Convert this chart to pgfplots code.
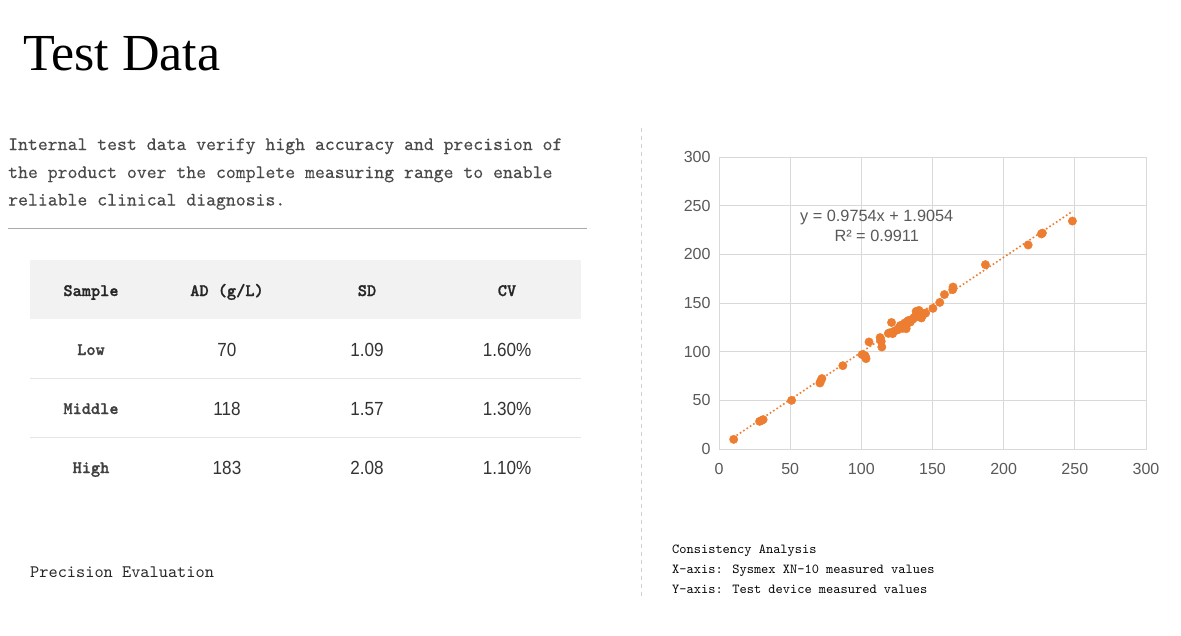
\documentclass[border=0pt]{standalone}
\usepackage{fontspec}
\usepackage{pgfplots}
\pgfplotsset{compat=1.18}
\setmainfont{Liberation Serif}
\newfontfamily\sansf{Liberation Sans}
\newfontfamily\numf[FakeStretch=0.9]{Liberation Sans}
\newfontfamily\ttbf[FakeBold=1.2]{lmmonolt10-bold.otf}
\newfontfamily\ttr[FakeBold=0.15]{lmmono10-regular.otf}
\newfontfamily\ttl{lmmono10-regular.otf}
\definecolor{xlorange}{HTML}{ED7D31}
\definecolor{gridc}{HTML}{D9D9D9}
\definecolor{tickc}{HTML}{595959}
\definecolor{band}{HTML}{F2F2F2}
\definecolor{rowline}{HTML}{E6E6E6}
\definecolor{para}{HTML}{4A4A4A}
\definecolor{rulec}{HTML}{AAAAAA}
\definecolor{dashc}{HTML}{D0D0D0}
\begin{document}
\begin{tikzpicture}[x=1pt,y=1pt]
\useasboundingbox (0,0) rectangle (1181,-635);
\fill[white] (0,0) rectangle (1181,-635);
% title
\node[anchor=base west, inner sep=0, font=\fontsize{52}{52}\selectfont] at (23,-70) {Test Data};
% paragraph
\begin{scope}[every node/.style={anchor=base west, inner sep=0, text=para, font=\ttr\fontsize{18.85}{18.85}\selectfont}]
\node at (8,-150) {Internal test data verify high accuracy and precision of};
\node at (8,-178) {the product over the complete measuring range to enable};
\node at (8,-205.5) {reliable clinical diagnosis.};
\end{scope}
\draw[rulec, line width=1pt] (8,-228) -- (587,-228);
% table
\fill[band] (30,-260) rectangle (581,-319);
\draw[rowline, line width=1pt] (30,-378) -- (581,-378);
\draw[rowline, line width=1pt] (30,-437) -- (581,-437);
\begin{scope}[every node/.style={anchor=base, inner sep=0, text=black!85, font=\ttbf\fontsize{17.5}{17.5}\selectfont}]
\node at (91,-296) {Sample};
\node at (227,-296) {AD (g/L)};
\node at (367,-296) {SD};
\node at (507,-296) {CV};
\node[text=black!75] at (91,-355) {Low};
\node[text=black!75] at (91,-414) {Middle};
\node[text=black!75] at (91,-473) {High};
\end{scope}
\begin{scope}[every node/.style={anchor=base, inner sep=0, text=black!80, font=\numf\fontsize{19}{19}\selectfont}]
\node at (227,-356) {70};
\node at (367,-356) {1.09};
\node at (507,-356) {1.60\%};
\node at (227,-415) {118};
\node at (367,-415) {1.57};
\node at (507,-415) {1.30\%};
\node at (227,-474) {183};
\node at (367,-474) {2.08};
\node at (507,-474) {1.10\%};
\end{scope}
\node[anchor=base west, inner sep=0, text=black!85, font=\ttl\fontsize{17.5}{17.5}\selectfont] at (30,-577) {Precision Evaluation};
% divider
\draw[dashc, line width=1pt, dash pattern=on 4pt off 4pt] (641,-128) -- (641,-600);
% captions
\begin{scope}[every node/.style={anchor=base west, inner sep=0, text=black, font=\ttl\fontsize{13.75}{13.75}\selectfont}]
\node at (672,-553) {Consistency Analysis};
\node at (672,-573) {X-axis: Sysmex XN-10 measured values};
\node at (672,-593) {Y-axis: Test device measured values};
\end{scope}
% chart
\begin{axis}[at={(719pt,-449pt)}, anchor=south west, scale only axis,
  width=427pt, height=292pt,
  xmin=0, xmax=300, ymin=0, ymax=300,
  xtick={0,50,...,300}, ytick={0,50,...,300},
  grid=major, grid style={gridc, line width=1pt},
  axis line style={gridc, line width=1pt},
  major tick length=0pt,
  tick label style={font=\fontsize{16}{16}\selectfont\sansf, text=tickc},
  /pgf/number format/assume math mode=true,
  xticklabel style={yshift=-11pt},
  yticklabel style={xshift=-5pt},
  clip=false]
\addplot[only marks, mark=*, mark size=4.2pt, color=xlorange, mark options={fill=xlorange, draw=xlorange}] coordinates {
(10.3,9.9) (28.5,28.4) (29.8,29.2) (31,30.2) (51,50)
(70.9,67.8) (71.5,70) (72.3,72.4) (87,85.6)
(100.5,97) (102.5,96) (103,94.5) (103.3,92.8) (105.4,110)
(113.2,114.5) (113.6,112) (114,110.5) (114.4,104.8)
(119,118.8) (120,119.5) (121.2,130) (122,118.5) (123,121)
(124.5,122) (125.8,122.6) (126.5,125) (127.5,127) (128.2,126)
(129,124) (130,125.5) (130.5,129.5) (131.5,123.6) (132,128)
(132.5,131) (133,132) (134,132.1) (134.5,130.5) (135.5,133)
(136.3,133.5) (137,135) (138,136.5) (138.5,141.4) (139,139)
(139.8,136.2) (140.5,142.4) (141,140) (141.5,137) (142.2,134.6)
(143.3,138) (144,139) (145.2,139.7)
(150.3,144.5) (155.1,150.6) (158.4,158.7) (164.2,163.7) (164.4,166.4)
(187.2,189.4) (217.2,209.6) (226.5,221) (227.2,221.8) (248.3,234.2)
};
\addplot[color=xlorange, line width=1.6pt, dash pattern=on 1.6pt off 2.4pt] coordinates {(10,11.66) (248.5,244.29)};
\node[font=\fontsize{16.3}{16.3}\selectfont\sansf, text=tickc] at (axis cs:110.8,237.6) {y = 0.9754x + 1.9054};
\node[font=\fontsize{16.3}{16.3}\selectfont\sansf, text=tickc] at (axis cs:110.8,218.5) {R² = 0.9911};
\end{axis}
\end{tikzpicture}
\end{document}
